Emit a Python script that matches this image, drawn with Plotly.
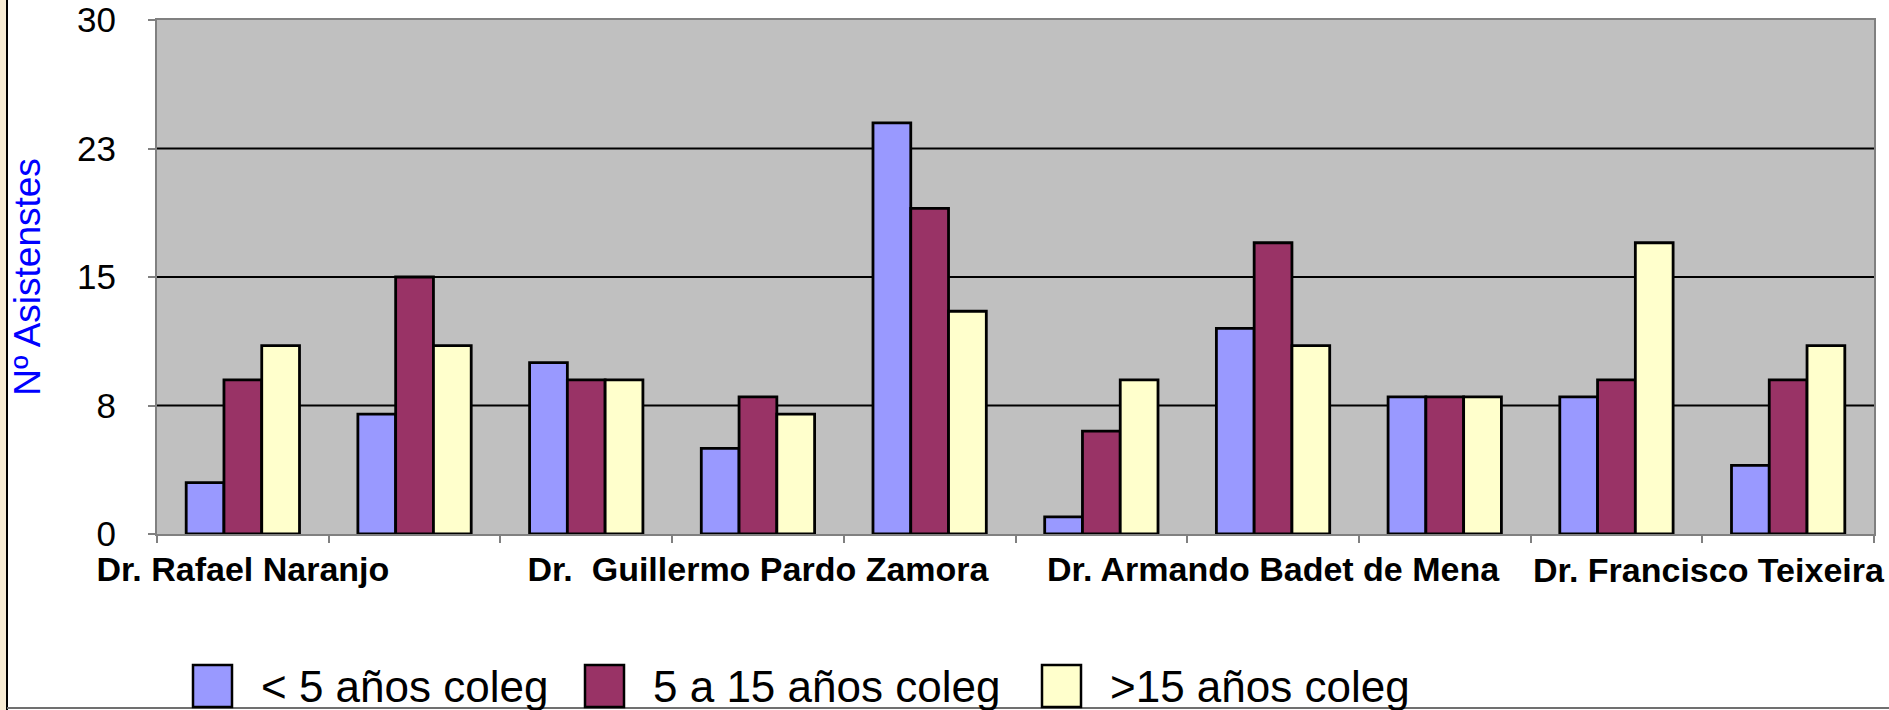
import plotly.graph_objects as go

# ---------------- data ----------------
sessions = [1, 2, 3, 4, 5, 6, 7, 8, 9, 10]
doctors = ["Dr. Rafael Naranjo", "Dr.  Guillermo Pardo Zamora",
           "Dr. Armando Badet de Mena", "Dr. Francisco Teixeira"]
doctor_sessions = [1, 4, 7, 10]

series_names = ["< 5 años coleg", "5 a 15 años coleg", ">15 años coleg"]
lt5 = [3, 7, 10, 5, 24, 1, 12, 8, 8, 4]
mid5_15 = [9, 15, 9, 8, 19, 6, 17, 8, 9, 9]
gt15 = [11, 11, 9, 7, 13, 9, 11, 8, 17, 11]

y_tickvals = [0, 7.5, 15, 22.5, 30]
y_ticktext = ["0", "8", "15", "23", "30"]
y_title = "Nº Asistenstes"

colors = ["#9999FF", "#993366", "#FFFFCC"]

# ---------------- layout constants ----------------
W, H = 1889, 710
ML, MR, MT, MB = 157, 15, 20, 176
PW, PH = W - ML - MR, H - MT - MB
FONT = "Arial, Liberation Sans, sans-serif"


def px_x(p):
    return (p - ML) / PW


def px_y(p):
    return (H - MB - p) / PH


fig = go.Figure()
for name, vals, col in zip(series_names, [lt5, mid5_15, gt15], colors):
    fig.add_trace(go.Bar(
        x=sessions, y=vals, name=name,
        marker=dict(color=col, line=dict(color="black", width=2.8)),
        showlegend=False,
    ))

shapes = []
# horizontal gridlines (inner ticks only)
for v in y_tickvals[1:-1]:
    shapes.append(dict(type="line", xref="paper", yref="y", x0=0, x1=1, y0=v, y1=v,
                       line=dict(color="black", width=2), layer="below"))

# frame decorations
shapes.append(dict(type="rect", xref="paper", yref="paper",
                   x0=px_x(0), x1=px_x(6), y0=px_y(H), y1=px_y(0),
                   fillcolor="#F8ECD4", line=dict(width=0), layer="above"))
shapes.append(dict(type="line", xref="paper", yref="paper",
                   x0=px_x(7), x1=px_x(7), y0=px_y(H), y1=px_y(0),
                   line=dict(color="black", width=2)))
shapes.append(dict(type="line", xref="paper", yref="paper",
                   x0=px_x(7), x1=px_x(W), y0=px_y(708), y1=px_y(708),
                   line=dict(color="#707070", width=2)))

annotations = []
# custom legend with large boxes
leg_left = [193, 585, 1042]
box_w, box_top, box_bot = 39, 665, 707
for name, col, lx in zip(series_names, colors, leg_left):
    shapes.append(dict(type="rect", xref="paper", yref="paper",
                       x0=px_x(lx), x1=px_x(lx + box_w),
                       y0=px_y(box_bot), y1=px_y(box_top),
                       fillcolor=col, line=dict(color="black", width=2.5)))
    annotations.append(dict(xref="paper", yref="paper",
                            x=px_x(lx + box_w + 27), y=px_y((box_top + box_bot) / 2),
                            xanchor="left", yanchor="middle", showarrow=False,
                            text=name, font=dict(family=FONT, size=44, color="black")))

# last category label (shifted left so that it fits, as in the original)
annotations.append(dict(xref="paper", yref="paper", x=1, y=0,
                        xanchor="right", yanchor="top", xshift=13, yshift=-15,
                        showarrow=False, text=doctors[-1],
                        font=dict(family=FONT, size=34, color="black", weight="bold")))

fig.update_layout(
    width=W, height=H,
    margin=dict(l=ML, r=MR, t=MT, b=MB, pad=0, autoexpand=False),
    paper_bgcolor="white", plot_bgcolor="#C0C0C0",
    barmode="group", bargap=0.34, bargroupgap=0,
    font=dict(family=FONT, color="black"),
    shapes=shapes, annotations=annotations,
    xaxis=dict(
        range=[0.5, 10.5], tickmode="array", automargin=False,
        tickvals=doctor_sessions[:-1], ticktext=doctors[:-1],
        ticks="", ticklabelstandoff=4,
        tickfont=dict(family=FONT, size=34, color="black", weight="bold"),
        showline=True, linecolor="#808080", linewidth=2, mirror=True,
        showgrid=False, zeroline=False,
        minor=dict(tick0=0.5, dtick=1, ticks="outside", ticklen=7,
                   tickcolor="#808080", tickwidth=2, showgrid=False),
    ),
    yaxis=dict(
        range=[0, 30], tickmode="array", tickvals=y_tickvals, ticktext=y_ticktext,
        automargin=False,
        ticks="outside", ticklen=7, tickcolor="#808080", tickwidth=2,
        ticklabelstandoff=25,
        tickfont=dict(family=FONT, size=35, color="black"),
        showline=True, linecolor="#808080", linewidth=2, mirror=True,
        showgrid=False, zeroline=False,
        title=dict(text=y_title, standoff=25,
                   font=dict(family=FONT, size=37, color="#0000FF")),
    ),
)

fig.write_html(
    "out.html",
    config={"displayModeBar": False},
    post_script="document.body.style.margin='0';document.body.style.overflow='hidden';",
)
